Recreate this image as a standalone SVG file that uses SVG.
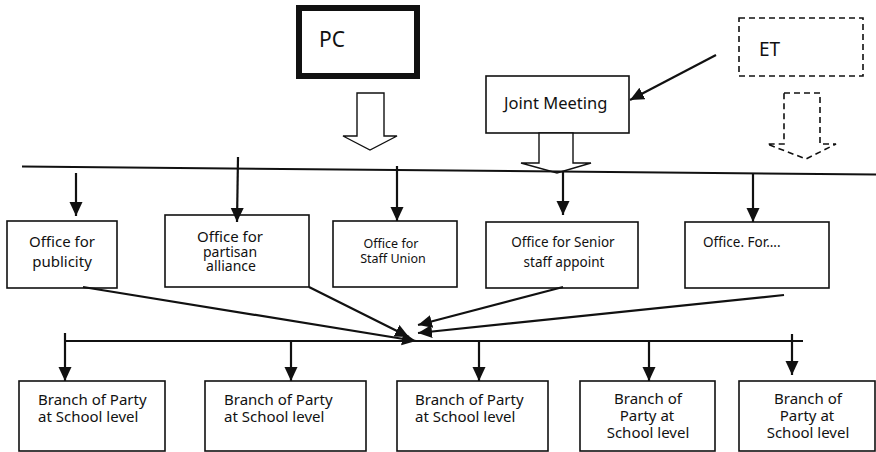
<svg xmlns="http://www.w3.org/2000/svg" width="876" height="452" viewBox="0 0 876 452">
  <defs>
    <marker id="head" markerUnits="userSpaceOnUse" markerWidth="14" markerHeight="14" refX="14" refY="6.5" orient="auto">
      <path d="M0,0 L14,6.5 L0,13 Z" fill="#111"/>
    </marker>
    <style>
      text { font-family: "Noto Sans", "Open Sans", sans-serif; fill: #111; }
      .box { fill: #fff; stroke: #111; stroke-width: 1.6; }
      .dash { fill: none; stroke: #111; stroke-width: 1.6; stroke-dasharray: 6 4; }
      .line { fill: none; stroke: #111; stroke-width: 2; }
      .arrow { fill: none; stroke: #111; stroke-width: 2.2; marker-end: url(#head); }
      .hollow { fill: #fff; stroke: #111; stroke-width: 1.4; }
      .t15 { font-size: 15px; }
      .t14 { font-size: 14px; }
      .t13 { font-size: 13.5px; }
    </style>
  </defs>

  <!-- top level bodies -->
  <g id="pc">
    <rect x="299" y="8" width="118" height="68" fill="#fff" stroke="#111" stroke-width="6"/>
    <text x="319" y="47" font-size="21">PC</text>
  </g>
  <g id="et">
    <rect class="dash" x="739" y="18" width="124" height="58"/>
    <text x="759" y="56" font-size="19">ET</text>
  </g>
  <g id="joint-meeting">
    <rect class="box" x="486" y="76" width="143" height="57"/>
    <text x="504" y="109" font-size="16.5">Joint Meeting</text>
  </g>

  <!-- offices -->
  <g id="office-publicity">
    <rect class="box" x="7" y="221" width="110" height="67"/>
    <text class="t15" x="62" y="247" text-anchor="middle">Office for</text>
    <text class="t15" x="62" y="267" text-anchor="middle">publicity</text>
  </g>
  <g id="office-partisan">
    <rect class="box" x="165" y="215" width="144" height="72"/>
    <text class="t15" x="230" y="242" text-anchor="middle">Office for</text>
    <text class="t14" x="230" y="257" text-anchor="middle">partisan</text>
    <text class="t14" x="231" y="271" text-anchor="middle">alliance</text>
  </g>
  <g id="office-staff-union">
    <rect class="box" x="333" y="221" width="124" height="66"/>
    <text x="391" y="248" font-size="12.5" text-anchor="middle">Office for</text>
    <text x="393" y="263" font-size="12.5" text-anchor="middle">Staff Union</text>
  </g>
  <g id="office-senior">
    <rect class="box" x="486" y="222" width="152" height="66"/>
    <text class="t13" x="563" y="247" text-anchor="middle">Office for Senior</text>
    <text class="t13" x="564" y="267" text-anchor="middle">staff appoint</text>
  </g>
  <g id="office-other">
    <rect class="box" x="685" y="222" width="144" height="66"/>
    <text class="t13" x="703" y="247">Office. For....</text>
  </g>

  <!-- school branches -->
  <g id="branch-1">
    <rect class="box" x="19" y="381" width="146" height="70"/>
    <text class="t15" x="38" y="405">Branch of Party</text>
    <text class="t15" x="38" y="422">at School level</text>
  </g>
  <g id="branch-2">
    <rect class="box" x="205" y="381" width="161" height="70"/>
    <text class="t15" x="224" y="405">Branch of Party</text>
    <text class="t15" x="224" y="422">at School level</text>
  </g>
  <g id="branch-3">
    <rect class="box" x="397" y="381" width="151" height="70"/>
    <text class="t15" x="415" y="405">Branch of Party</text>
    <text class="t15" x="415" y="422">at School level</text>
  </g>
  <g id="branch-4">
    <rect class="box" x="580" y="381" width="135" height="70"/>
    <text class="t15" x="648" y="404" text-anchor="middle">Branch of</text>
    <text class="t15" x="647" y="421" text-anchor="middle">Party at</text>
    <text class="t15" x="648" y="438" text-anchor="middle">School level</text>
  </g>
  <g id="branch-5">
    <rect class="box" x="739" y="381" width="136" height="70"/>
    <text class="t15" x="808" y="404" text-anchor="middle">Branch of</text>
    <text class="t15" x="807" y="421" text-anchor="middle">Party at</text>
    <text class="t15" x="808" y="438" text-anchor="middle">School level</text>
  </g>

  <!-- connectors -->
  <g id="connectors">
    <!-- block arrows from the top bodies -->
    <path class="hollow" d="M357,93 L384,93 L384,136 L397,136 L370,150 L343,136 L357,136 Z"/>
    <path class="hollow" d="M539,133 L573,133 L573,163 L591,163 L557,173 L521,163 L539,163 Z"/>
    <path class="dash" d="M784,93 L820,93 L820,144 L836,144 L806,159 L767,144 L784,144 Z"/>
    <line class="arrow" x1="716" y1="55" x2="630" y2="100"/>

    <!-- upper bus and drops to offices -->
    <line class="line" x1="22" y1="166.5" x2="876" y2="174.5"/>
    <line class="arrow" x1="76" y1="173" x2="76" y2="216"/>
    <line class="arrow" x1="238" y1="157" x2="237" y2="222"/>
    <line class="arrow" x1="397" y1="166" x2="397" y2="221"/>
    <line class="arrow" x1="563" y1="172" x2="563" y2="215"/>
    <line class="arrow" x1="753" y1="173" x2="753" y2="222"/>

    <!-- offices converging on the lower bus -->
    <line class="arrow" x1="83" y1="287" x2="416" y2="341"/>
    <line class="arrow" x1="309" y1="287" x2="409" y2="337"/>
    <line class="arrow" x1="563" y1="287" x2="418" y2="325"/>
    <line class="arrow" x1="784" y1="295" x2="418" y2="333"/>

    <!-- lower bus and drops to branches -->
    <line class="line" x1="65" y1="341" x2="803" y2="341"/>
    <line class="arrow" x1="65" y1="333" x2="65" y2="381"/>
    <line class="arrow" x1="291" y1="341" x2="291" y2="381"/>
    <line class="arrow" x1="479" y1="341" x2="479" y2="381"/>
    <line class="arrow" x1="649" y1="341" x2="649" y2="381"/>
    <line class="arrow" x1="792" y1="334" x2="792" y2="375"/>
  </g>
</svg>
